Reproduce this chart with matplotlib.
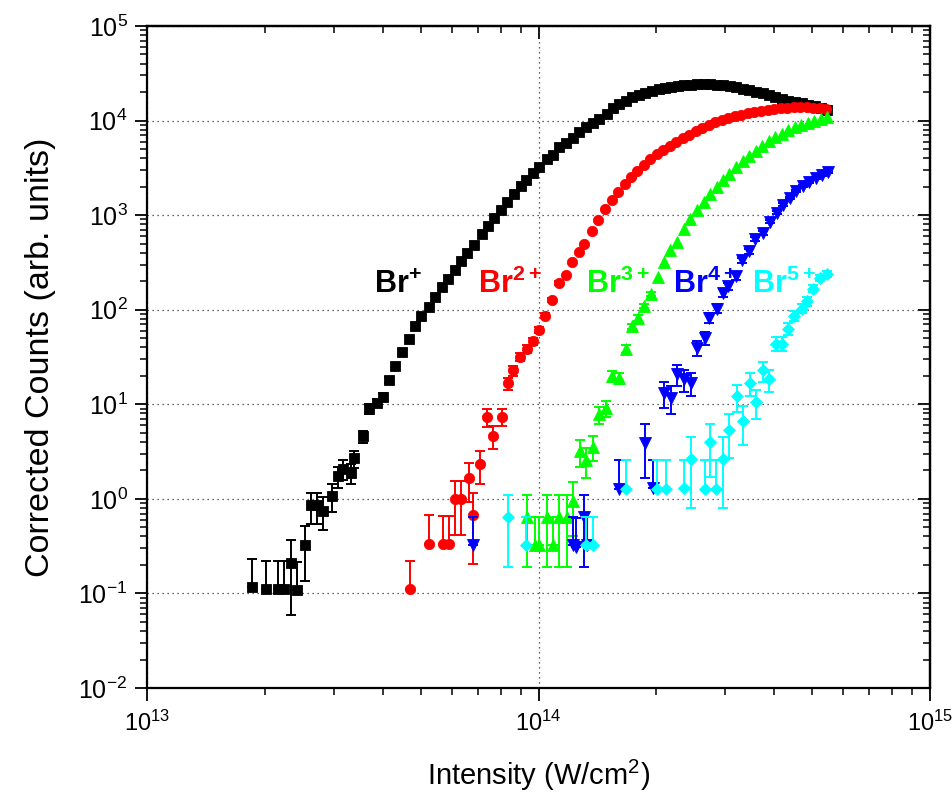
import numpy as np
import matplotlib
matplotlib.use("Agg")
import matplotlib.pyplot as plt
from matplotlib.ticker import LogLocator, NullFormatter, FuncFormatter

plt.rcParams["font.family"] = ["Liberation Sans", "DejaVu Sans"]
plt.rcParams["mathtext.fontset"] = "custom"
plt.rcParams["mathtext.rm"] = "Liberation Sans"
plt.rcParams["mathtext.bf"] = "Liberation Sans:bold"

# ---------------- data: intensity (W/cm^2), corrected counts, errors ----------------
br1_x = [1.85e13, 2.01e13, 2.16e13, 2.24e13, 2.33e13, 2.42e13, 2.53e13, 2.62e13, 2.71e13, 2.82e13,
         2.97e13, 3.08e13, 3.17e13, 3.31e13, 3.37e13, 3.57e13, 3.70e13, 3.86e13, 4.00e13, 4.15e13,
         4.31e13, 4.48e13, 4.66e13, 4.84e13, 5.02e13, 5.25e13, 5.45e13, 5.66e13, 5.88e13, 6.13e13,
         6.33e13, 6.58e13, 6.84e13, 7.16e13, 7.43e13, 7.70e13, 8.02e13, 8.31e13, 8.66e13, 9.01e13,
         9.29e13, 9.66e13, 1.005e14, 1.049e14, 1.087e14, 1.13e14, 1.175e14, 1.223e14, 1.271e14, 1.322e14,
         1.375e14, 1.429e14, 1.493e14, 1.55e14, 1.61e14, 1.673e14, 1.738e14, 1.806e14, 1.876e14, 1.95e14,
         2.026e14, 2.104e14, 2.186e14, 2.271e14, 2.36e14, 2.452e14, 2.547e14, 2.647e14, 2.75e14, 2.857e14,
         2.968e14, 3.084e14, 3.204e14, 3.329e14, 3.459e14, 3.594e14, 3.734e14, 3.88e14, 4.03e14, 4.19e14,
         4.35e14, 4.52e14, 4.70e14, 4.88e14, 5.07e14, 5.27e14, 5.47e14]
br1_y = [0.118, 0.111, 0.111, 0.111, 0.212, 0.108, 0.323, 0.853, 0.853, 0.75,
         1.08, 1.74, 2.08, 1.89, 2.68, 4.57, 8.97, 10.4, 12.0, 18.0,
         25.7, 36.1, 49.5, 67.9, 86.7, 107, 137, 174, 211, 265,
         324, 398, 479, 637, 773, 939, 1140, 1386, 1683, 2044,
         2366, 2785, 3266, 3910, 4345, 5236, 5861, 6607, 7656, 8511,
         9397, 10350, 11700, 13500, 15000, 16300, 17600, 18700, 19600, 20600,
         21400, 21900, 22400, 23000, 23500, 23800, 24100, 24100, 24100, 23800,
         23500, 23000, 22400, 21600, 20800, 20100, 19400, 18500, 17800, 16900,
         16300, 15800, 15200, 14700, 14100, 13600, 13000]
br1_err = [0.114, 0.110, 0.110, 0.110, 0.153, 0.109, 0.188, 0.306, 0.306, 0.287,
           0.345, 0.437, 0.478, 0.456, 0.543, 0.709, 0.993, 1.07, 1.15, 1.41]

br2_x = [4.69e13, 5.25e13, 5.69e13, 5.91e13, 6.13e13, 6.33e13, 6.63e13, 6.81e13, 7.10e13, 7.39e13,
         7.67e13, 8.05e13, 8.36e13, 8.59e13, 8.97e13, 9.33e13, 9.68e13, 1.003e14, 1.042e14, 1.081e14,
         1.130e14, 1.175e14, 1.215e14, 1.267e14, 1.309e14, 1.372e14, 1.423e14, 1.479e14, 1.537e14, 1.597e14,
         1.659e14, 1.723e14, 1.790e14, 1.860e14, 1.932e14, 2.007e14, 2.085e14, 2.167e14, 2.251e14, 2.339e14,
         2.430e14, 2.525e14, 2.623e14, 2.725e14, 2.832e14, 2.942e14, 3.057e14, 3.176e14, 3.300e14, 3.428e14,
         3.562e14, 3.701e14, 3.846e14, 3.995e14, 4.151e14, 4.313e14, 4.481e14, 4.656e14, 4.837e14, 5.025e14,
         5.222e14, 5.425e14]
br2_y = [0.111, 0.336, 0.33, 0.33, 0.99, 0.99, 1.66, 0.675, 2.31, 7.3,
         4.6, 7.4, 16.6, 22.9, 31.8, 38.5, 46.4, 61.6, 86.7, 126,
         192, 235, 320, 403, 499, 673, 894, 1168, 1454, 1766,
         2120, 2544, 2943, 3406, 3894, 4397, 4906, 5405, 5960, 6486,
         7063, 7691, 8373, 9008, 9572, 10170, 10680, 11080, 11490, 11910,
         12210, 12510, 12820, 13130, 13450, 13610, 13780, 13840, 13780, 13610,
         13450, 13290]
br2_err = [0.11, 0.333, 0.33, 0.33, 0.572, 0.572, 0.74, 0.472, 0.873, 1.55,
           1.23, 1.56, 2.34, 2.75, 3.24, 3.56, 3.91, 4.51, 5.35, 6.45, 7.96]

br3_x = [9.36e13, 9.80e13, 1.005e14, 1.049e14, 1.091e14, 1.130e14, 1.180e14, 1.227e14, 1.276e14, 1.320e14,
         1.375e14, 1.430e14, 1.487e14, 1.544e14, 1.606e14, 1.670e14, 1.736e14, 1.798e14, 1.860e14, 1.939e14,
         2.023e14, 2.092e14, 2.167e14, 2.262e14, 2.352e14, 2.444e14, 2.540e14, 2.640e14, 2.742e14, 2.850e14,
         2.960e14, 3.075e14, 3.195e14, 3.320e14, 3.449e14, 3.584e14, 3.724e14, 3.869e14, 4.019e14, 4.176e14,
         4.339e14, 4.508e14, 4.684e14, 4.866e14, 5.056e14, 5.253e14, 5.458e14]
br3_y = [0.643, 0.323, 0.323, 0.643, 0.323, 0.643, 0.643, 0.96, 3.2, 2.57,
         3.56, 7.8, 9.04, 19.8, 18.8, 38.8, 66.8, 81.8, 110, 147,
         220, 320, 431, 520, 719, 916, 1140, 1386, 1683, 1995,
         2366, 2736, 3205, 3709, 4239, 4786, 5405, 6031, 6646, 7238,
         7879, 8476, 9008, 9456, 9926, 10300, 10810]
br3_err = [0.454, 0.32, 0.32, 0.454, 0.32, 0.454, 0.454, 0.554, 1.01, 0.907,
           1.07, 1.58, 1.70, 2.52, 2.45, 3.52, 4.62, 5.12, 5.93, 6.86]

br4_x = [6.81e13, 1.223e14, 1.247e14, 1.307e14, 1.328e14, 1.606e14, 1.871e14, 1.965e14, 2.092e14, 2.176e14,
         2.254e14, 2.357e14, 2.448e14, 2.540e14, 2.655e14, 2.731e14, 2.852e14, 2.955e14, 3.054e14, 3.195e14,
         3.316e14, 3.455e14, 3.573e14, 3.752e14, 3.903e14, 4.055e14, 4.213e14, 4.377e14, 4.548e14, 4.725e14,
         4.909e14, 5.100e14, 5.298e14, 5.490e14]
br4_y = [0.323, 0.323, 0.31, 0.643, 0.323, 1.28, 3.92, 1.3, 13.2, 11.7,
         20.7, 18.3, 16.9, 39.5, 50.4, 81.8, 103, 150, 177, 225,
         333, 414, 560, 647, 852, 1060, 1288, 1526, 1788, 2020,
         2253, 2483, 2672, 2872]
br4_err = [0.32, 0.32, 0.31, 0.454, 0.32, 1.28, 2.24, 1.29, 4.11, 3.87,
           5.15, 4.84, 4.65, 7.11, 8.03, 10.2, 11.5, 13.9, 15.1, 17.0,
           20.6, 23.0, 26.8, 28.8, 33.0, 36.8, 40.6, 44.2, 47.8, 50.8,
           53.7, 56.4, 58.5, 60.6]

br5_x = [8.34e13, 9.29e13, 1.322e14, 1.380e14, 1.673e14, 2.011e14, 2.113e14, 2.356e14, 2.449e14, 2.657e14,
         2.742e14, 2.848e14, 2.955e14, 3.072e14, 3.208e14, 3.323e14, 3.469e14, 3.588e14, 3.739e14, 3.887e14,
         4.036e14, 4.195e14, 4.346e14, 4.494e14, 4.701e14, 4.860e14, 5.016e14, 5.236e14, 5.447e14]
br5_y = [0.643, 0.323, 0.323, 0.323, 1.28, 1.28, 1.28, 1.30, 2.66, 1.28,
         3.98, 1.28, 2.66, 5.33, 12.2, 6.64, 16.9, 10.6, 22.8, 18.3,
         43.9, 43.9, 62.7, 86.7, 103, 123, 167, 217, 239]
br5_err = [0.454, 0.32, 0.32, 0.32, 1.28, 1.28, 1.28, 1.29, 1.85, 1.28,
           2.26, 1.28, 1.85, 2.61, 3.95, 2.92, 4.65, 3.68, 5.40, 4.84,
           7.50, 7.50, 8.96, 10.5, 11.5, 12.5, 14.6, 16.7, 17.5]

ion_labels = [r"$\mathbf{Br}^{\mathbf{+}}$", r"$\mathbf{Br}^{\mathbf{2+}}$", r"$\mathbf{Br}^{\mathbf{3+}}$",
              r"$\mathbf{Br}^{\mathbf{4+}}$", r"$\mathbf{Br}^{\mathbf{5+}}$"]
label_pos = [(3.80e13, 150), (7.02e13, 150), (1.322e14, 150), (2.21e14, 150), (3.50e14, 150)]

series = [
    (br1_x, br1_y, br1_err, "#000000", "s", 6.6),
    (br2_x, br2_y, br2_err, "#ff0000", "o", 7.4),
    (br3_x, br3_y, br3_err, "#00ff00", "^", 8.4),
    (br4_x, br4_y, br4_err, "#0000ff", "v", 8.4),
    (br5_x, br5_y, br5_err, "#00ffff", "D", 6.4),
]

# ---------------- figure ----------------
fig = plt.figure(figsize=(9.53, 8.0), dpi=100)
ax = fig.add_axes([147 / 953, 1 - 688 / 800, 783 / 953, 662 / 800])
ax.set_xscale("log")
ax.set_yscale("log")
ax.set_xlim(1e13, 1e15)
ax.set_ylim(1e-2, 1e5)

ax.grid(True, which="major", linestyle=(0, (1, 3)), color="#333333", linewidth=0.9, zorder=0)

for i, (x, y, e, c, m, ms) in enumerate(series):
    x = np.asarray(x, float)
    y = np.asarray(y, float)
    e = np.asarray(e, float)
    n = len(e)
    lo = np.where(e < 0.95 * y[:n], e, 0.0)
    ax.errorbar(x[:n], y[:n], yerr=[lo, e], fmt="none", ecolor=c, elinewidth=1.4,
                capsize=3.6, capthick=1.4, zorder=2 + i)
    ax.plot(x, y, linestyle="none", marker=m, markersize=ms, color=c, mec=c,
            mew=0.6, zorder=2.5 + i)

for (lx, ly), txt, (_, _, _, c, _, _) in zip(label_pos, ion_labels, series):
    ax.text(lx, ly, txt, color=c, fontsize=22, ha="left", va="baseline", zorder=10)

# ---------------- axes styling ----------------
for s in ax.spines.values():
    s.set_linewidth(1.6)

ax.xaxis.set_major_locator(LogLocator(base=10, numticks=10))
ax.xaxis.set_minor_locator(LogLocator(base=10, subs=np.arange(2, 10), numticks=30))
ax.yaxis.set_major_locator(LogLocator(base=10, numticks=20))
ax.yaxis.set_minor_locator(LogLocator(base=10, subs=np.arange(2, 10), numticks=60))
ax.xaxis.set_minor_formatter(NullFormatter())
ax.yaxis.set_minor_formatter(NullFormatter())
ax.xaxis.set_major_formatter(FuncFormatter(lambda v, p: r"$\mathrm{10^{%d}}$" % round(np.log10(v))))
ax.yaxis.set_major_formatter(FuncFormatter(lambda v, p: r"$\mathrm{10^{%d}}$" % round(np.log10(v))))

ax.tick_params(which="major", direction="out", length=9, width=1.3)
ax.tick_params(which="minor", direction="out", length=5, width=1.1)
ax.tick_params(axis="x", which="major", pad=7, labelsize=17)
ax.tick_params(axis="y", which="major", pad=5, labelsize=18)

# mirrored inward ticks on the top and right edges
top = ax.secondary_xaxis("top")
top.xaxis.set_major_locator(LogLocator(base=10, numticks=10))
top.xaxis.set_minor_locator(LogLocator(base=10, subs=np.arange(2, 10), numticks=30))
top.xaxis.set_major_formatter(NullFormatter())
top.xaxis.set_minor_formatter(NullFormatter())
top.tick_params(which="major", direction="in", length=9, width=1.3)
top.tick_params(which="minor", direction="in", length=5, width=1.1)
top.spines["top"].set_linewidth(1.6)

right = ax.secondary_yaxis("right")
right.yaxis.set_major_locator(LogLocator(base=10, numticks=20))
right.yaxis.set_minor_locator(LogLocator(base=10, subs=np.arange(2, 10), numticks=60))
right.yaxis.set_major_formatter(NullFormatter())
right.yaxis.set_minor_formatter(NullFormatter())
right.tick_params(which="major", direction="in", length=9, width=1.3)
right.tick_params(which="minor", direction="in", length=5, width=1.1)
right.spines["right"].set_linewidth(1.6)

ax.set_xlabel(r"Intensity (W/cm$^{2}$)", fontsize=21, labelpad=16)
ax.set_ylabel("Corrected Counts (arb. units)", fontsize=24.5, labelpad=16)

fig.savefig("out.png", dpi=100)
